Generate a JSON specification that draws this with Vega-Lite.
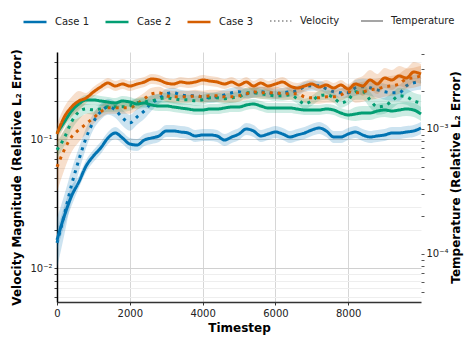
{
"$schema":"https://vega.github.io/schema/vega-lite/v6.json",
"width":364,"height":250,
"autosize":{"type":"none"},
"padding":{"left":57,"top":52,"right":43,"bottom":35},
"background":"white",
"config":{"font":"DejaVu Sans","view":{"stroke":null},
"axis":{"labelFont":"DejaVu Sans","labelFontSize":10,"labelColor":"#222","titleFont":"DejaVu Sans","titleFontSize":12,"titleFontWeight":"bold","titleColor":"#000"},
"legend":{"labelFont":"DejaVu Sans","labelFontSize":10,"labelColor":"#222","padding":0}},
"datasets":{"d":[
{"t":0,"c":"Case 1","v":"Velocity","y":0.01576,"lo":0.01009,"hi":0.02462},
{"t":200,"c":"Case 1","v":"Velocity","y":0.026,"lo":0.01819,"hi":0.03715},
{"t":400,"c":"Case 1","v":"Velocity","y":0.0444,"lo":0.03397,"hi":0.05803},
{"t":600,"c":"Case 1","v":"Velocity","y":0.0694,"lo":0.056,"hi":0.086},
{"t":800,"c":"Case 1","v":"Velocity","y":0.1027,"lo":0.0859,"hi":0.1227},
{"t":1000,"c":"Case 1","v":"Velocity","y":0.1367,"lo":0.1186,"hi":0.1576},
{"t":1200,"c":"Case 1","v":"Velocity","y":0.1634,"lo":0.1417,"hi":0.1884},
{"t":1400,"c":"Case 1","v":"Velocity","y":0.1786,"lo":0.1549,"hi":0.2059},
{"t":1600,"c":"Case 1","v":"Velocity","y":0.1693,"lo":0.1468,"hi":0.1952},
{"t":1800,"c":"Case 1","v":"Velocity","y":0.1468,"lo":0.1273,"hi":0.1693},
{"t":2000,"c":"Case 1","v":"Velocity","y":0.1342,"lo":0.1164,"hi":0.1547},
{"t":2200,"c":"Case 1","v":"Velocity","y":0.1494,"lo":0.1296,"hi":0.1723},
{"t":2400,"c":"Case 1","v":"Velocity","y":0.1663,"lo":0.1442,"hi":0.1917},
{"t":2600,"c":"Case 1","v":"Velocity","y":0.1919,"lo":0.1664,"hi":0.2213},
{"t":2800,"c":"Case 1","v":"Velocity","y":0.2061,"lo":0.1886,"hi":0.2253},
{"t":3000,"c":"Case 1","v":"Velocity","y":0.2253,"lo":0.2061,"hi":0.2463},
{"t":3200,"c":"Case 1","v":"Velocity","y":0.2294,"lo":0.2099,"hi":0.2507},
{"t":3400,"c":"Case 1","v":"Velocity","y":0.2213,"lo":0.2025,"hi":0.2419},
{"t":3600,"c":"Case 1","v":"Velocity","y":0.2174,"lo":0.1989,"hi":0.2376},
{"t":3800,"c":"Case 1","v":"Velocity","y":0.2174,"lo":0.1989,"hi":0.2376},
{"t":4000,"c":"Case 1","v":"Velocity","y":0.2135,"lo":0.1953,"hi":0.2334},
{"t":4200,"c":"Case 1","v":"Velocity","y":0.2098,"lo":0.1919,"hi":0.2293},
{"t":4400,"c":"Case 1","v":"Velocity","y":0.2135,"lo":0.1953,"hi":0.2334},
{"t":4600,"c":"Case 1","v":"Velocity","y":0.2213,"lo":0.2025,"hi":0.2419},
{"t":4800,"c":"Case 1","v":"Velocity","y":0.2294,"lo":0.2099,"hi":0.2507},
{"t":5000,"c":"Case 1","v":"Velocity","y":0.2335,"lo":0.2136,"hi":0.2552},
{"t":5200,"c":"Case 1","v":"Velocity","y":0.2253,"lo":0.2061,"hi":0.2463},
{"t":5400,"c":"Case 1","v":"Velocity","y":0.2294,"lo":0.2099,"hi":0.2507},
{"t":5600,"c":"Case 1","v":"Velocity","y":0.2335,"lo":0.2136,"hi":0.2552},
{"t":5800,"c":"Case 1","v":"Velocity","y":0.2294,"lo":0.2099,"hi":0.2507},
{"t":6000,"c":"Case 1","v":"Velocity","y":0.2253,"lo":0.2061,"hi":0.2463},
{"t":6200,"c":"Case 1","v":"Velocity","y":0.2294,"lo":0.2099,"hi":0.2507},
{"t":6400,"c":"Case 1","v":"Velocity","y":0.2335,"lo":0.2136,"hi":0.2552},
{"t":6600,"c":"Case 1","v":"Velocity","y":0.2377,"lo":0.2175,"hi":0.2598},
{"t":6800,"c":"Case 1","v":"Velocity","y":0.2553,"lo":0.2336,"hi":0.279},
{"t":7000,"c":"Case 1","v":"Velocity","y":0.2598,"lo":0.2377,"hi":0.284},
{"t":7200,"c":"Case 1","v":"Velocity","y":0.2598,"lo":0.2377,"hi":0.284},
{"t":7400,"c":"Case 1","v":"Velocity","y":0.2464,"lo":0.2254,"hi":0.2693},
{"t":7600,"c":"Case 1","v":"Velocity","y":0.2335,"lo":0.2136,"hi":0.2552},
{"t":7800,"c":"Case 1","v":"Velocity","y":0.2294,"lo":0.2099,"hi":0.2507},
{"t":8000,"c":"Case 1","v":"Velocity","y":0.2294,"lo":0.2099,"hi":0.2507},
{"t":8200,"c":"Case 1","v":"Velocity","y":0.2507,"lo":0.2174,"hi":0.2891},
{"t":8400,"c":"Case 1","v":"Velocity","y":0.2553,"lo":0.2214,"hi":0.2944},
{"t":8600,"c":"Case 1","v":"Velocity","y":0.2507,"lo":0.2174,"hi":0.2891},
{"t":8800,"c":"Case 1","v":"Velocity","y":0.2419,"lo":0.2098,"hi":0.2789},
{"t":9000,"c":"Case 1","v":"Velocity","y":0.2335,"lo":0.2025,"hi":0.2692},
{"t":9200,"c":"Case 1","v":"Velocity","y":0.2294,"lo":0.199,"hi":0.2645},
{"t":9400,"c":"Case 1","v":"Velocity","y":0.2294,"lo":0.199,"hi":0.2645},
{"t":9600,"c":"Case 1","v":"Velocity","y":0.2598,"lo":0.2253,"hi":0.2995},
{"t":9800,"c":"Case 1","v":"Velocity","y":0.2742,"lo":0.2378,"hi":0.3162},
{"t":10000,"c":"Case 1","v":"Velocity","y":0.2791,"lo":0.2421,"hi":0.3218},
{"t":0,"c":"Case 2","v":"Velocity","y":0.0829,"lo":0.0719,"hi":0.0956},
{"t":200,"c":"Case 2","v":"Velocity","y":0.1027,"lo":0.0891,"hi":0.1184},
{"t":400,"c":"Case 2","v":"Velocity","y":0.1367,"lo":0.1186,"hi":0.1576},
{"t":600,"c":"Case 2","v":"Velocity","y":0.1634,"lo":0.1417,"hi":0.1884},
{"t":800,"c":"Case 2","v":"Velocity","y":0.1723,"lo":0.1576,"hi":0.1883},
{"t":1000,"c":"Case 2","v":"Velocity","y":0.1693,"lo":0.1549,"hi":0.185},
{"t":1200,"c":"Case 2","v":"Velocity","y":0.1723,"lo":0.1576,"hi":0.1883},
{"t":1400,"c":"Case 2","v":"Velocity","y":0.1786,"lo":0.1634,"hi":0.1952},
{"t":1600,"c":"Case 2","v":"Velocity","y":0.1786,"lo":0.1634,"hi":0.1952},
{"t":1800,"c":"Case 2","v":"Velocity","y":0.1786,"lo":0.1634,"hi":0.1952},
{"t":2000,"c":"Case 2","v":"Velocity","y":0.1818,"lo":0.1663,"hi":0.1987},
{"t":2200,"c":"Case 2","v":"Velocity","y":0.1919,"lo":0.1756,"hi":0.2097},
{"t":2400,"c":"Case 2","v":"Velocity","y":0.1953,"lo":0.1787,"hi":0.2135},
{"t":2600,"c":"Case 2","v":"Velocity","y":0.1988,"lo":0.1819,"hi":0.2173},
{"t":2800,"c":"Case 2","v":"Velocity","y":0.2061,"lo":0.1886,"hi":0.2253},
{"t":3000,"c":"Case 2","v":"Velocity","y":0.2098,"lo":0.1919,"hi":0.2293},
{"t":3200,"c":"Case 2","v":"Velocity","y":0.2061,"lo":0.1886,"hi":0.2253},
{"t":3400,"c":"Case 2","v":"Velocity","y":0.2024,"lo":0.1852,"hi":0.2212},
{"t":3600,"c":"Case 2","v":"Velocity","y":0.2024,"lo":0.1852,"hi":0.2212},
{"t":3800,"c":"Case 2","v":"Velocity","y":0.1988,"lo":0.1819,"hi":0.2173},
{"t":4000,"c":"Case 2","v":"Velocity","y":0.2024,"lo":0.1852,"hi":0.2212},
{"t":4200,"c":"Case 2","v":"Velocity","y":0.2098,"lo":0.1919,"hi":0.2293},
{"t":4400,"c":"Case 2","v":"Velocity","y":0.2098,"lo":0.1919,"hi":0.2293},
{"t":4600,"c":"Case 2","v":"Velocity","y":0.2061,"lo":0.1886,"hi":0.2253},
{"t":4800,"c":"Case 2","v":"Velocity","y":0.2098,"lo":0.1919,"hi":0.2293},
{"t":5000,"c":"Case 2","v":"Velocity","y":0.2135,"lo":0.1953,"hi":0.2334},
{"t":5200,"c":"Case 2","v":"Velocity","y":0.2294,"lo":0.2099,"hi":0.2507},
{"t":5400,"c":"Case 2","v":"Velocity","y":0.2294,"lo":0.2099,"hi":0.2507},
{"t":5600,"c":"Case 2","v":"Velocity","y":0.2253,"lo":0.2061,"hi":0.2463},
{"t":5800,"c":"Case 2","v":"Velocity","y":0.2213,"lo":0.2025,"hi":0.2419},
{"t":6000,"c":"Case 2","v":"Velocity","y":0.2174,"lo":0.1989,"hi":0.2376},
{"t":6200,"c":"Case 2","v":"Velocity","y":0.2174,"lo":0.1989,"hi":0.2376},
{"t":6400,"c":"Case 2","v":"Velocity","y":0.2213,"lo":0.2025,"hi":0.2419},
{"t":6600,"c":"Case 2","v":"Velocity","y":0.2061,"lo":0.1886,"hi":0.2253},
{"t":6800,"c":"Case 2","v":"Velocity","y":0.1884,"lo":0.1724,"hi":0.2059},
{"t":7000,"c":"Case 2","v":"Velocity","y":0.1988,"lo":0.1819,"hi":0.2173},
{"t":7200,"c":"Case 2","v":"Velocity","y":0.2174,"lo":0.1989,"hi":0.2376},
{"t":7400,"c":"Case 2","v":"Velocity","y":0.2213,"lo":0.2025,"hi":0.2419},
{"t":7600,"c":"Case 2","v":"Velocity","y":0.2098,"lo":0.1919,"hi":0.2293},
{"t":7800,"c":"Case 2","v":"Velocity","y":0.1919,"lo":0.1756,"hi":0.2097},
{"t":8000,"c":"Case 2","v":"Velocity","y":0.2024,"lo":0.1852,"hi":0.2212},
{"t":8200,"c":"Case 2","v":"Velocity","y":0.2335,"lo":0.2025,"hi":0.2692},
{"t":8400,"c":"Case 2","v":"Velocity","y":0.2335,"lo":0.2025,"hi":0.2692},
{"t":8600,"c":"Case 2","v":"Velocity","y":0.2024,"lo":0.1755,"hi":0.2334},
{"t":8800,"c":"Case 2","v":"Velocity","y":0.1786,"lo":0.1549,"hi":0.2059},
{"t":9000,"c":"Case 2","v":"Velocity","y":0.1818,"lo":0.1577,"hi":0.2096},
{"t":9200,"c":"Case 2","v":"Velocity","y":0.1988,"lo":0.1724,"hi":0.2292},
{"t":9400,"c":"Case 2","v":"Velocity","y":0.2174,"lo":0.1886,"hi":0.2507},
{"t":9600,"c":"Case 2","v":"Velocity","y":0.2135,"lo":0.1852,"hi":0.2462},
{"t":9800,"c":"Case 2","v":"Velocity","y":0.1988,"lo":0.1724,"hi":0.2292},
{"t":10000,"c":"Case 2","v":"Velocity","y":0.1919,"lo":0.1664,"hi":0.2213},
{"t":0,"c":"Case 3","v":"Velocity","y":0.0612,"lo":0.0392,"hi":0.0956},
{"t":200,"c":"Case 3","v":"Velocity","y":0.0829,"lo":0.058,"hi":0.1185},
{"t":400,"c":"Case 3","v":"Velocity","y":0.1046,"lo":0.08,"hi":0.1367},
{"t":600,"c":"Case 3","v":"Velocity","y":0.1185,"lo":0.0956,"hi":0.1468},
{"t":800,"c":"Case 3","v":"Velocity","y":0.1319,"lo":0.1104,"hi":0.1576},
{"t":1000,"c":"Case 3","v":"Velocity","y":0.1468,"lo":0.1319,"hi":0.1634},
{"t":1200,"c":"Case 3","v":"Velocity","y":0.1634,"lo":0.1468,"hi":0.1819},
{"t":1400,"c":"Case 3","v":"Velocity","y":0.1755,"lo":0.1577,"hi":0.1953},
{"t":1600,"c":"Case 3","v":"Velocity","y":0.1755,"lo":0.1577,"hi":0.1953},
{"t":1800,"c":"Case 3","v":"Velocity","y":0.1755,"lo":0.1577,"hi":0.1953},
{"t":2000,"c":"Case 3","v":"Velocity","y":0.1755,"lo":0.1577,"hi":0.1953},
{"t":2200,"c":"Case 3","v":"Velocity","y":0.1884,"lo":0.1693,"hi":0.2097},
{"t":2400,"c":"Case 3","v":"Velocity","y":0.2061,"lo":0.1852,"hi":0.2294},
{"t":2600,"c":"Case 3","v":"Velocity","y":0.2253,"lo":0.2024,"hi":0.2508},
{"t":2800,"c":"Case 3","v":"Velocity","y":0.2294,"lo":0.2061,"hi":0.2553},
{"t":3000,"c":"Case 3","v":"Velocity","y":0.2174,"lo":0.1953,"hi":0.242},
{"t":3200,"c":"Case 3","v":"Velocity","y":0.2135,"lo":0.1918,"hi":0.2376},
{"t":3400,"c":"Case 3","v":"Velocity","y":0.2135,"lo":0.1918,"hi":0.2376},
{"t":3600,"c":"Case 3","v":"Velocity","y":0.2135,"lo":0.1918,"hi":0.2376},
{"t":3800,"c":"Case 3","v":"Velocity","y":0.2174,"lo":0.1953,"hi":0.242},
{"t":4000,"c":"Case 3","v":"Velocity","y":0.2135,"lo":0.1918,"hi":0.2376},
{"t":4200,"c":"Case 3","v":"Velocity","y":0.2174,"lo":0.1953,"hi":0.242},
{"t":4400,"c":"Case 3","v":"Velocity","y":0.2174,"lo":0.1953,"hi":0.242},
{"t":4600,"c":"Case 3","v":"Velocity","y":0.2135,"lo":0.1918,"hi":0.2376},
{"t":4800,"c":"Case 3","v":"Velocity","y":0.2135,"lo":0.1918,"hi":0.2376},
{"t":5000,"c":"Case 3","v":"Velocity","y":0.2174,"lo":0.1953,"hi":0.242},
{"t":5200,"c":"Case 3","v":"Velocity","y":0.2253,"lo":0.2024,"hi":0.2508},
{"t":5400,"c":"Case 3","v":"Velocity","y":0.2335,"lo":0.2098,"hi":0.2599},
{"t":5600,"c":"Case 3","v":"Velocity","y":0.2294,"lo":0.2061,"hi":0.2553},
{"t":5800,"c":"Case 3","v":"Velocity","y":0.2294,"lo":0.2061,"hi":0.2553},
{"t":6000,"c":"Case 3","v":"Velocity","y":0.2294,"lo":0.2061,"hi":0.2553},
{"t":6200,"c":"Case 3","v":"Velocity","y":0.2253,"lo":0.2024,"hi":0.2508},
{"t":6400,"c":"Case 3","v":"Velocity","y":0.2253,"lo":0.2024,"hi":0.2508},
{"t":6600,"c":"Case 3","v":"Velocity","y":0.2253,"lo":0.2024,"hi":0.2508},
{"t":6800,"c":"Case 3","v":"Velocity","y":0.2135,"lo":0.1918,"hi":0.2376},
{"t":7000,"c":"Case 3","v":"Velocity","y":0.2098,"lo":0.1885,"hi":0.2335},
{"t":7200,"c":"Case 3","v":"Velocity","y":0.2098,"lo":0.1885,"hi":0.2335},
{"t":7400,"c":"Case 3","v":"Velocity","y":0.2135,"lo":0.1918,"hi":0.2376},
{"t":7600,"c":"Case 3","v":"Velocity","y":0.2135,"lo":0.1918,"hi":0.2376},
{"t":7800,"c":"Case 3","v":"Velocity","y":0.2213,"lo":0.1988,"hi":0.2463},
{"t":8000,"c":"Case 3","v":"Velocity","y":0.2335,"lo":0.2098,"hi":0.2599},
{"t":8200,"c":"Case 3","v":"Velocity","y":0.2294,"lo":0.192,"hi":0.2741},
{"t":8400,"c":"Case 3","v":"Velocity","y":0.2335,"lo":0.1954,"hi":0.279},
{"t":8600,"c":"Case 3","v":"Velocity","y":0.2419,"lo":0.2024,"hi":0.2891},
{"t":8800,"c":"Case 3","v":"Velocity","y":0.2464,"lo":0.2062,"hi":0.2944},
{"t":9000,"c":"Case 3","v":"Velocity","y":0.2553,"lo":0.2136,"hi":0.3051},
{"t":9200,"c":"Case 3","v":"Velocity","y":0.2598,"lo":0.2174,"hi":0.3105},
{"t":9400,"c":"Case 3","v":"Velocity","y":0.2693,"lo":0.2254,"hi":0.3218},
{"t":9600,"c":"Case 3","v":"Velocity","y":0.2944,"lo":0.2464,"hi":0.3518},
{"t":9800,"c":"Case 3","v":"Velocity","y":0.2998,"lo":0.2509,"hi":0.3583},
{"t":10000,"c":"Case 3","v":"Velocity","y":0.3106,"lo":0.2599,"hi":0.3712},
{"t":0,"c":"Case 1","v":"Temperature","y":0.0001294,"lo":0.0001077,"hi":0.0001555},
{"t":200,"c":"Case 1","v":"Temperature","y":0.0002014,"lo":0.0001676,"hi":0.0002421},
{"t":400,"c":"Case 1","v":"Temperature","y":0.0002911,"lo":0.0002422,"hi":0.0003499},
{"t":600,"c":"Case 1","v":"Temperature","y":0.0003767,"lo":0.0003372,"hi":0.0004208},
{"t":800,"c":"Case 1","v":"Temperature","y":0.0005058,"lo":0.0004528,"hi":0.000565},
{"t":1000,"c":"Case 1","v":"Temperature","y":0.0006081,"lo":0.0005444,"hi":0.0006792},
{"t":1200,"c":"Case 1","v":"Temperature","y":0.0007047,"lo":0.0006309,"hi":0.0007872},
{"t":1400,"c":"Case 1","v":"Temperature","y":0.0008472,"lo":0.0007585,"hi":0.0009463},
{"t":1600,"c":"Case 1","v":"Temperature","y":0.000929,"lo":0.0008317,"hi":0.0010377},
{"t":1800,"c":"Case 1","v":"Temperature","y":0.0008472,"lo":0.0007585,"hi":0.0009463},
{"t":2000,"c":"Case 1","v":"Temperature","y":0.0007586,"lo":0.0006791,"hi":0.0008474},
{"t":2200,"c":"Case 1","v":"Temperature","y":0.0007447,"lo":0.0006667,"hi":0.0008318},
{"t":2400,"c":"Case 1","v":"Temperature","y":0.0008166,"lo":0.0007311,"hi":0.0009121},
{"t":2600,"c":"Case 1","v":"Temperature","y":0.0008472,"lo":0.0007585,"hi":0.0009463},
{"t":2800,"c":"Case 1","v":"Temperature","y":0.000879,"lo":0.0007869,"hi":0.0009818},
{"t":3000,"c":"Case 1","v":"Temperature","y":0.0009638,"lo":0.0008628,"hi":0.0010766},
{"t":3200,"c":"Case 1","v":"Temperature","y":0.0009638,"lo":0.0008628,"hi":0.0010766},
{"t":3400,"c":"Case 1","v":"Temperature","y":0.0009462,"lo":0.0008471,"hi":0.0010569},
{"t":3600,"c":"Case 1","v":"Temperature","y":0.000929,"lo":0.0008317,"hi":0.0010377},
{"t":3800,"c":"Case 1","v":"Temperature","y":0.000879,"lo":0.0007869,"hi":0.0009818},
{"t":4000,"c":"Case 1","v":"Temperature","y":0.0008954,"lo":0.0008016,"hi":0.0010002},
{"t":4200,"c":"Case 1","v":"Temperature","y":0.0008954,"lo":0.0008016,"hi":0.0010002},
{"t":4400,"c":"Case 1","v":"Temperature","y":0.000879,"lo":0.0007869,"hi":0.0009818},
{"t":4600,"c":"Case 1","v":"Temperature","y":0.0008166,"lo":0.0007311,"hi":0.0009121},
{"t":4800,"c":"Case 1","v":"Temperature","y":0.000863,"lo":0.0007726,"hi":0.000964},
{"t":5000,"c":"Case 1","v":"Temperature","y":0.000912,"lo":0.0008165,"hi":0.0010187},
{"t":5200,"c":"Case 1","v":"Temperature","y":0.001,"lo":0.0008953,"hi":0.001117},
{"t":5400,"c":"Case 1","v":"Temperature","y":0.0009638,"lo":0.0008628,"hi":0.0010766},
{"t":5600,"c":"Case 1","v":"Temperature","y":0.000879,"lo":0.0007869,"hi":0.0009818},
{"t":5800,"c":"Case 1","v":"Temperature","y":0.000912,"lo":0.0008165,"hi":0.0010187},
{"t":6000,"c":"Case 1","v":"Temperature","y":0.0009462,"lo":0.0008471,"hi":0.0010569},
{"t":6200,"c":"Case 1","v":"Temperature","y":0.000912,"lo":0.0008165,"hi":0.0010187},
{"t":6400,"c":"Case 1","v":"Temperature","y":0.000863,"lo":0.0007726,"hi":0.000964},
{"t":6600,"c":"Case 1","v":"Temperature","y":0.0008954,"lo":0.0008016,"hi":0.0010002},
{"t":6800,"c":"Case 1","v":"Temperature","y":0.000929,"lo":0.0008317,"hi":0.0010377},
{"t":7000,"c":"Case 1","v":"Temperature","y":0.0009818,"lo":0.000879,"hi":0.0010967},
{"t":7200,"c":"Case 1","v":"Temperature","y":0.0010186,"lo":0.0009119,"hi":0.0011378},
{"t":7400,"c":"Case 1","v":"Temperature","y":0.0009638,"lo":0.0008628,"hi":0.0010766},
{"t":7600,"c":"Case 1","v":"Temperature","y":0.000863,"lo":0.0007726,"hi":0.000964},
{"t":7800,"c":"Case 1","v":"Temperature","y":0.000863,"lo":0.0007726,"hi":0.000964},
{"t":8000,"c":"Case 1","v":"Temperature","y":0.000912,"lo":0.0008165,"hi":0.0010187},
{"t":8200,"c":"Case 1","v":"Temperature","y":0.0009462,"lo":0.0008471,"hi":0.0010569},
{"t":8400,"c":"Case 1","v":"Temperature","y":0.0008954,"lo":0.0008016,"hi":0.0010002},
{"t":8600,"c":"Case 1","v":"Temperature","y":0.000863,"lo":0.0007726,"hi":0.000964},
{"t":8800,"c":"Case 1","v":"Temperature","y":0.000879,"lo":0.0007869,"hi":0.0009818},
{"t":9000,"c":"Case 1","v":"Temperature","y":0.0008954,"lo":0.0008016,"hi":0.0010002},
{"t":9200,"c":"Case 1","v":"Temperature","y":0.000929,"lo":0.0008317,"hi":0.0010377},
{"t":9400,"c":"Case 1","v":"Temperature","y":0.000929,"lo":0.0008317,"hi":0.0010377},
{"t":9600,"c":"Case 1","v":"Temperature","y":0.0009462,"lo":0.0008471,"hi":0.0010569},
{"t":9800,"c":"Case 1","v":"Temperature","y":0.0009638,"lo":0.0008628,"hi":0.0010766},
{"t":10000,"c":"Case 1","v":"Temperature","y":0.0010186,"lo":0.0009119,"hi":0.0011378},
{"t":0,"c":"Case 2","v":"Temperature","y":0.000929,"lo":0.000848,"hi":0.001018},
{"t":200,"c":"Case 2","v":"Temperature","y":0.001138,"lo":0.001038,"hi":0.001247},
{"t":400,"c":"Case 2","v":"Temperature","y":0.001393,"lo":0.001271,"hi":0.001527},
{"t":600,"c":"Case 2","v":"Temperature","y":0.001585,"lo":0.001446,"hi":0.001737},
{"t":800,"c":"Case 2","v":"Temperature","y":0.001706,"lo":0.001557,"hi":0.00187},
{"t":1000,"c":"Case 2","v":"Temperature","y":0.001706,"lo":0.001557,"hi":0.00187},
{"t":1200,"c":"Case 2","v":"Temperature","y":0.001675,"lo":0.001528,"hi":0.001836},
{"t":1400,"c":"Case 2","v":"Temperature","y":0.001644,"lo":0.0015,"hi":0.001802},
{"t":1600,"c":"Case 2","v":"Temperature","y":0.001614,"lo":0.001473,"hi":0.001769},
{"t":1800,"c":"Case 2","v":"Temperature","y":0.001675,"lo":0.001528,"hi":0.001836},
{"t":2000,"c":"Case 2","v":"Temperature","y":0.001644,"lo":0.0015,"hi":0.001802},
{"t":2200,"c":"Case 2","v":"Temperature","y":0.001585,"lo":0.001446,"hi":0.001737},
{"t":2400,"c":"Case 2","v":"Temperature","y":0.001614,"lo":0.001473,"hi":0.001769},
{"t":2600,"c":"Case 2","v":"Temperature","y":0.001556,"lo":0.00142,"hi":0.001705},
{"t":2800,"c":"Case 2","v":"Temperature","y":0.001528,"lo":0.001394,"hi":0.001675},
{"t":3000,"c":"Case 2","v":"Temperature","y":0.001528,"lo":0.001394,"hi":0.001675},
{"t":3200,"c":"Case 2","v":"Temperature","y":0.0015,"lo":0.001369,"hi":0.001644},
{"t":3400,"c":"Case 2","v":"Temperature","y":0.001472,"lo":0.001343,"hi":0.001613},
{"t":3600,"c":"Case 2","v":"Temperature","y":0.001445,"lo":0.001318,"hi":0.001584},
{"t":3800,"c":"Case 2","v":"Temperature","y":0.001419,"lo":0.001295,"hi":0.001555},
{"t":4000,"c":"Case 2","v":"Temperature","y":0.001419,"lo":0.001295,"hi":0.001555},
{"t":4200,"c":"Case 2","v":"Temperature","y":0.001445,"lo":0.001318,"hi":0.001584},
{"t":4400,"c":"Case 2","v":"Temperature","y":0.001445,"lo":0.001318,"hi":0.001584},
{"t":4600,"c":"Case 2","v":"Temperature","y":0.001472,"lo":0.001343,"hi":0.001613},
{"t":4800,"c":"Case 2","v":"Temperature","y":0.0015,"lo":0.001369,"hi":0.001644},
{"t":5000,"c":"Case 2","v":"Temperature","y":0.0015,"lo":0.001369,"hi":0.001644},
{"t":5200,"c":"Case 2","v":"Temperature","y":0.001556,"lo":0.00142,"hi":0.001705},
{"t":5400,"c":"Case 2","v":"Temperature","y":0.001585,"lo":0.001446,"hi":0.001737},
{"t":5600,"c":"Case 2","v":"Temperature","y":0.001528,"lo":0.001394,"hi":0.001675},
{"t":5800,"c":"Case 2","v":"Temperature","y":0.001472,"lo":0.001343,"hi":0.001613},
{"t":6000,"c":"Case 2","v":"Temperature","y":0.001472,"lo":0.001343,"hi":0.001613},
{"t":6200,"c":"Case 2","v":"Temperature","y":0.001472,"lo":0.001343,"hi":0.001613},
{"t":6400,"c":"Case 2","v":"Temperature","y":0.001472,"lo":0.001343,"hi":0.001613},
{"t":6600,"c":"Case 2","v":"Temperature","y":0.001445,"lo":0.001318,"hi":0.001584},
{"t":6800,"c":"Case 2","v":"Temperature","y":0.001419,"lo":0.001295,"hi":0.001555},
{"t":7000,"c":"Case 2","v":"Temperature","y":0.001419,"lo":0.001295,"hi":0.001555},
{"t":7200,"c":"Case 2","v":"Temperature","y":0.001419,"lo":0.001295,"hi":0.001555},
{"t":7400,"c":"Case 2","v":"Temperature","y":0.001445,"lo":0.001318,"hi":0.001584},
{"t":7600,"c":"Case 2","v":"Temperature","y":0.001419,"lo":0.001295,"hi":0.001555},
{"t":7800,"c":"Case 2","v":"Temperature","y":0.001343,"lo":0.001225,"hi":0.001472},
{"t":8000,"c":"Case 2","v":"Temperature","y":0.001294,"lo":0.001181,"hi":0.001418},
{"t":8200,"c":"Case 2","v":"Temperature","y":0.001318,"lo":0.001158,"hi":0.0015},
{"t":8400,"c":"Case 2","v":"Temperature","y":0.001343,"lo":0.00118,"hi":0.001528},
{"t":8600,"c":"Case 2","v":"Temperature","y":0.001343,"lo":0.00118,"hi":0.001528},
{"t":8800,"c":"Case 2","v":"Temperature","y":0.001393,"lo":0.001224,"hi":0.001585},
{"t":9000,"c":"Case 2","v":"Temperature","y":0.001419,"lo":0.001247,"hi":0.001615},
{"t":9200,"c":"Case 2","v":"Temperature","y":0.001393,"lo":0.001224,"hi":0.001585},
{"t":9400,"c":"Case 2","v":"Temperature","y":0.001419,"lo":0.001247,"hi":0.001615},
{"t":9600,"c":"Case 2","v":"Temperature","y":0.001445,"lo":0.00127,"hi":0.001644},
{"t":9800,"c":"Case 2","v":"Temperature","y":0.001419,"lo":0.001247,"hi":0.001615},
{"t":10000,"c":"Case 2","v":"Temperature","y":0.001318,"lo":0.001158,"hi":0.0015},
{"t":0,"c":"Case 3","v":"Temperature","y":0.000912,"lo":0.000759,"hi":0.001096},
{"t":200,"c":"Case 3","v":"Temperature","y":0.001247,"lo":0.001037,"hi":0.001499},
{"t":400,"c":"Case 3","v":"Temperature","y":0.0015,"lo":0.001248,"hi":0.001803},
{"t":600,"c":"Case 3","v":"Temperature","y":0.001675,"lo":0.001394,"hi":0.002013},
{"t":800,"c":"Case 3","v":"Temperature","y":0.00177,"lo":0.001615,"hi":0.00194},
{"t":1000,"c":"Case 3","v":"Temperature","y":0.001977,"lo":0.001804,"hi":0.002167},
{"t":1200,"c":"Case 3","v":"Temperature","y":0.002168,"lo":0.001978,"hi":0.002376},
{"t":1400,"c":"Case 3","v":"Temperature","y":0.002333,"lo":0.002129,"hi":0.002557},
{"t":1600,"c":"Case 3","v":"Temperature","y":0.002208,"lo":0.002015,"hi":0.00242},
{"t":1800,"c":"Case 3","v":"Temperature","y":0.002291,"lo":0.00209,"hi":0.002511},
{"t":2000,"c":"Case 3","v":"Temperature","y":0.002208,"lo":0.002015,"hi":0.00242},
{"t":2200,"c":"Case 3","v":"Temperature","y":0.002291,"lo":0.00209,"hi":0.002511},
{"t":2400,"c":"Case 3","v":"Temperature","y":0.002377,"lo":0.002169,"hi":0.002605},
{"t":2600,"c":"Case 3","v":"Temperature","y":0.002512,"lo":0.002292,"hi":0.002753},
{"t":2800,"c":"Case 3","v":"Temperature","y":0.002466,"lo":0.00225,"hi":0.002703},
{"t":3000,"c":"Case 3","v":"Temperature","y":0.002333,"lo":0.002129,"hi":0.002557},
{"t":3200,"c":"Case 3","v":"Temperature","y":0.002291,"lo":0.00209,"hi":0.002511},
{"t":3400,"c":"Case 3","v":"Temperature","y":0.002377,"lo":0.002169,"hi":0.002605},
{"t":3600,"c":"Case 3","v":"Temperature","y":0.002333,"lo":0.002129,"hi":0.002557},
{"t":3800,"c":"Case 3","v":"Temperature","y":0.002377,"lo":0.002169,"hi":0.002605},
{"t":4000,"c":"Case 3","v":"Temperature","y":0.002466,"lo":0.00225,"hi":0.002703},
{"t":4200,"c":"Case 3","v":"Temperature","y":0.002421,"lo":0.002209,"hi":0.002653},
{"t":4400,"c":"Case 3","v":"Temperature","y":0.002377,"lo":0.002169,"hi":0.002605},
{"t":4600,"c":"Case 3","v":"Temperature","y":0.002291,"lo":0.00209,"hi":0.002511},
{"t":4800,"c":"Case 3","v":"Temperature","y":0.002377,"lo":0.002169,"hi":0.002605},
{"t":5000,"c":"Case 3","v":"Temperature","y":0.002249,"lo":0.002052,"hi":0.002465},
{"t":5200,"c":"Case 3","v":"Temperature","y":0.002377,"lo":0.002169,"hi":0.002605},
{"t":5400,"c":"Case 3","v":"Temperature","y":0.002208,"lo":0.002015,"hi":0.00242},
{"t":5600,"c":"Case 3","v":"Temperature","y":0.002333,"lo":0.002129,"hi":0.002557},
{"t":5800,"c":"Case 3","v":"Temperature","y":0.002208,"lo":0.002015,"hi":0.00242},
{"t":6000,"c":"Case 3","v":"Temperature","y":0.002291,"lo":0.00209,"hi":0.002511},
{"t":6200,"c":"Case 3","v":"Temperature","y":0.002377,"lo":0.002169,"hi":0.002605},
{"t":6400,"c":"Case 3","v":"Temperature","y":0.002208,"lo":0.002015,"hi":0.00242},
{"t":6600,"c":"Case 3","v":"Temperature","y":0.002128,"lo":0.001942,"hi":0.002332},
{"t":6800,"c":"Case 3","v":"Temperature","y":0.002208,"lo":0.002015,"hi":0.00242},
{"t":7000,"c":"Case 3","v":"Temperature","y":0.002291,"lo":0.00209,"hi":0.002511},
{"t":7200,"c":"Case 3","v":"Temperature","y":0.002168,"lo":0.001978,"hi":0.002376},
{"t":7400,"c":"Case 3","v":"Temperature","y":0.002249,"lo":0.002052,"hi":0.002465},
{"t":7600,"c":"Case 3","v":"Temperature","y":0.002128,"lo":0.001942,"hi":0.002332},
{"t":7800,"c":"Case 3","v":"Temperature","y":0.002249,"lo":0.002052,"hi":0.002465},
{"t":8000,"c":"Case 3","v":"Temperature","y":0.002089,"lo":0.001906,"hi":0.00229},
{"t":8200,"c":"Case 3","v":"Temperature","y":0.002291,"lo":0.00209,"hi":0.002511},
{"t":8400,"c":"Case 3","v":"Temperature","y":0.002208,"lo":0.001837,"hi":0.002654},
{"t":8600,"c":"Case 3","v":"Temperature","y":0.002466,"lo":0.002052,"hi":0.002964},
{"t":8800,"c":"Case 3","v":"Temperature","y":0.002291,"lo":0.001906,"hi":0.002754},
{"t":9000,"c":"Case 3","v":"Temperature","y":0.002559,"lo":0.002129,"hi":0.003076},
{"t":9200,"c":"Case 3","v":"Temperature","y":0.002466,"lo":0.002052,"hi":0.002964},
{"t":9400,"c":"Case 3","v":"Temperature","y":0.002655,"lo":0.002209,"hi":0.003191},
{"t":9600,"c":"Case 3","v":"Temperature","y":0.002559,"lo":0.002129,"hi":0.003076},
{"t":9800,"c":"Case 3","v":"Temperature","y":0.002858,"lo":0.002378,"hi":0.003435},
{"t":10000,"c":"Case 3","v":"Temperature","y":0.002754,"lo":0.002291,"hi":0.00331}
]},
"data":{"name":"d"},
"encoding":{"x":{"field":"t","type":"quantitative","scale":{"domain":[0,10000],"nice":false,"zero":false},
"axis":{"values":[0,2000,4000,6000,8000],"format":"d","title":"Timestep","grid":true,"gridColor":"#d6d6d6","domainColor":"#333","domainWidth":1.5,"tickColor":"#333","tickSize":3,"labelPadding":3,"titlePadding":4,"labelFlush":false}}},
"layer":[
{"transform":[{"filter":"datum.v === 'Velocity'"}],
"layer":[
{"mark":{"type":"area","opacity":0.2,"interpolate":"monotone"},
"encoding":{"y":{"field":"lo","type":"quantitative","scale":{"type":"log","domain":[0.0055,0.475],"nice":false},
"axis":{"orient":"left","title":"Velocity Magnitude (Relative L₂ Error)","values":[0.006,0.007,0.008,0.009,0.01,0.02,0.03,0.04,0.05,0.06,0.07,0.08,0.09,0.1,0.2,0.3,0.4],"labelExpr":"datum.value == 0.1 ? '10⁻¹' : datum.value == 0.01 ? '10⁻²' : ''","labelOverlap":false,"labelFlush":false,"grid":true,"gridColor":{"condition":{"test":"datum.value == 0.1 || datum.value == 0.01","value":"#d0d0d0"},"value":"#eeeeee"},"domainColor":"#000","domainWidth":1.5,"tickColor":"#444","tickSize":3,"labelPadding":2,"titlePadding":6}},
"y2":{"field":"hi"},
"fill":{"field":"c","type":"nominal","scale":{"range":["#0173B2","#029E73","#D55E00"]},"legend":null}}},
{"mark":{"type":"line","strokeWidth":3,"interpolate":"monotone","strokeDash":[3,5]},
"encoding":{"y":{"field":"y","type":"quantitative","scale":{"type":"log","domain":[0.0055,0.475],"nice":false},
"axis":{"orient":"left","title":"Velocity Magnitude (Relative L₂ Error)","values":[0.006,0.007,0.008,0.009,0.01,0.02,0.03,0.04,0.05,0.06,0.07,0.08,0.09,0.1,0.2,0.3,0.4],"labelExpr":"datum.value == 0.1 ? '10⁻¹' : datum.value == 0.01 ? '10⁻²' : ''","labelOverlap":false,"labelFlush":false,"grid":true,"gridColor":{"condition":{"test":"datum.value == 0.1 || datum.value == 0.01","value":"#d0d0d0"},"value":"#eeeeee"},"domainColor":"#000","domainWidth":1.5,"tickColor":"#444","tickSize":3,"labelPadding":2,"titlePadding":6}},
"color":{"field":"c","type":"nominal","scale":{"domain":["Case 1","Case 2","Case 3"],"range":["#0173B2","#029E73","#D55E00"]},
"legend":{"orient":"none","legendX":-35,"legendY":-43,"direction":"horizontal","title":null,"symbolType":"stroke","symbolSize":529,"symbolStrokeWidth":2.5,"symbolDash":[1,0],"labelOffset":7,"columnPadding":10}}}}
]},
{"transform":[{"filter":"datum.v === 'Temperature'"}],
"layer":[
{"mark":{"type":"area","opacity":0.2,"interpolate":"monotone"},
"encoding":{"y":{"field":"lo","type":"quantitative","scale":{"type":"log","domain":[0.0000413,0.00413],"nice":false},
"axis":{"orient":"right","title":"Temperature (Relative L₂ Error)","titleAngle":270,"values":[0.00005,0.00006,0.00007,0.00008,0.00009,0.0001,0.0002,0.0003,0.0004,0.0005,0.0006,0.0007,0.0008,0.0009,0.001,0.002,0.003,0.004],"labelExpr":"datum.value == 0.001 ? '10⁻³' : datum.value == 0.0001 ? '10⁻⁴' : ''","labelOverlap":false,"labelFlush":false,"grid":false,"domain":false,"tickColor":"#555","tickSize":3,"labelPadding":2,"titlePadding":14}},
"y2":{"field":"hi"},
"fill":{"field":"c","type":"nominal","scale":{"range":["#0173B2","#029E73","#D55E00"]},"legend":null}}},
{"mark":{"type":"line","strokeWidth":3,"interpolate":"monotone"},
"encoding":{"y":{"field":"y","type":"quantitative","scale":{"type":"log","domain":[0.0000413,0.00413],"nice":false},
"axis":{"orient":"right","title":"Temperature (Relative L₂ Error)","titleAngle":270,"values":[0.00005,0.00006,0.00007,0.00008,0.00009,0.0001,0.0002,0.0003,0.0004,0.0005,0.0006,0.0007,0.0008,0.0009,0.001,0.002,0.003,0.004],"labelExpr":"datum.value == 0.001 ? '10⁻³' : datum.value == 0.0001 ? '10⁻⁴' : ''","labelOverlap":false,"labelFlush":false,"grid":false,"domain":false,"tickColor":"#555","tickSize":3,"labelPadding":2,"titlePadding":14}},
"color":{"field":"c","type":"nominal","scale":{"domain":["Case 1","Case 2","Case 3"],"range":["#0173B2","#029E73","#D55E00"]},
"legend":{"orient":"none","legendX":-35,"legendY":-43,"direction":"horizontal","title":null,"symbolType":"stroke","symbolSize":529,"symbolStrokeWidth":2.5,"symbolDash":[1,0],"labelOffset":7,"columnPadding":10}},
"strokeDash":{"field":"v","type":"nominal","scale":{"domain":["Velocity","Temperature"],"range":[[1.5,2.5],[1,0]]},
"legend":{"orient":"none","legendX":212,"legendY":-43,"direction":"horizontal","title":null,"symbolType":"stroke","symbolSize":484,"symbolStrokeColor":"#888","symbolStrokeWidth":1.5,"labelOffset":7,"columnPadding":18}}}}
]}
],
"resolve":{"scale":{"y":"independent"}}
}
